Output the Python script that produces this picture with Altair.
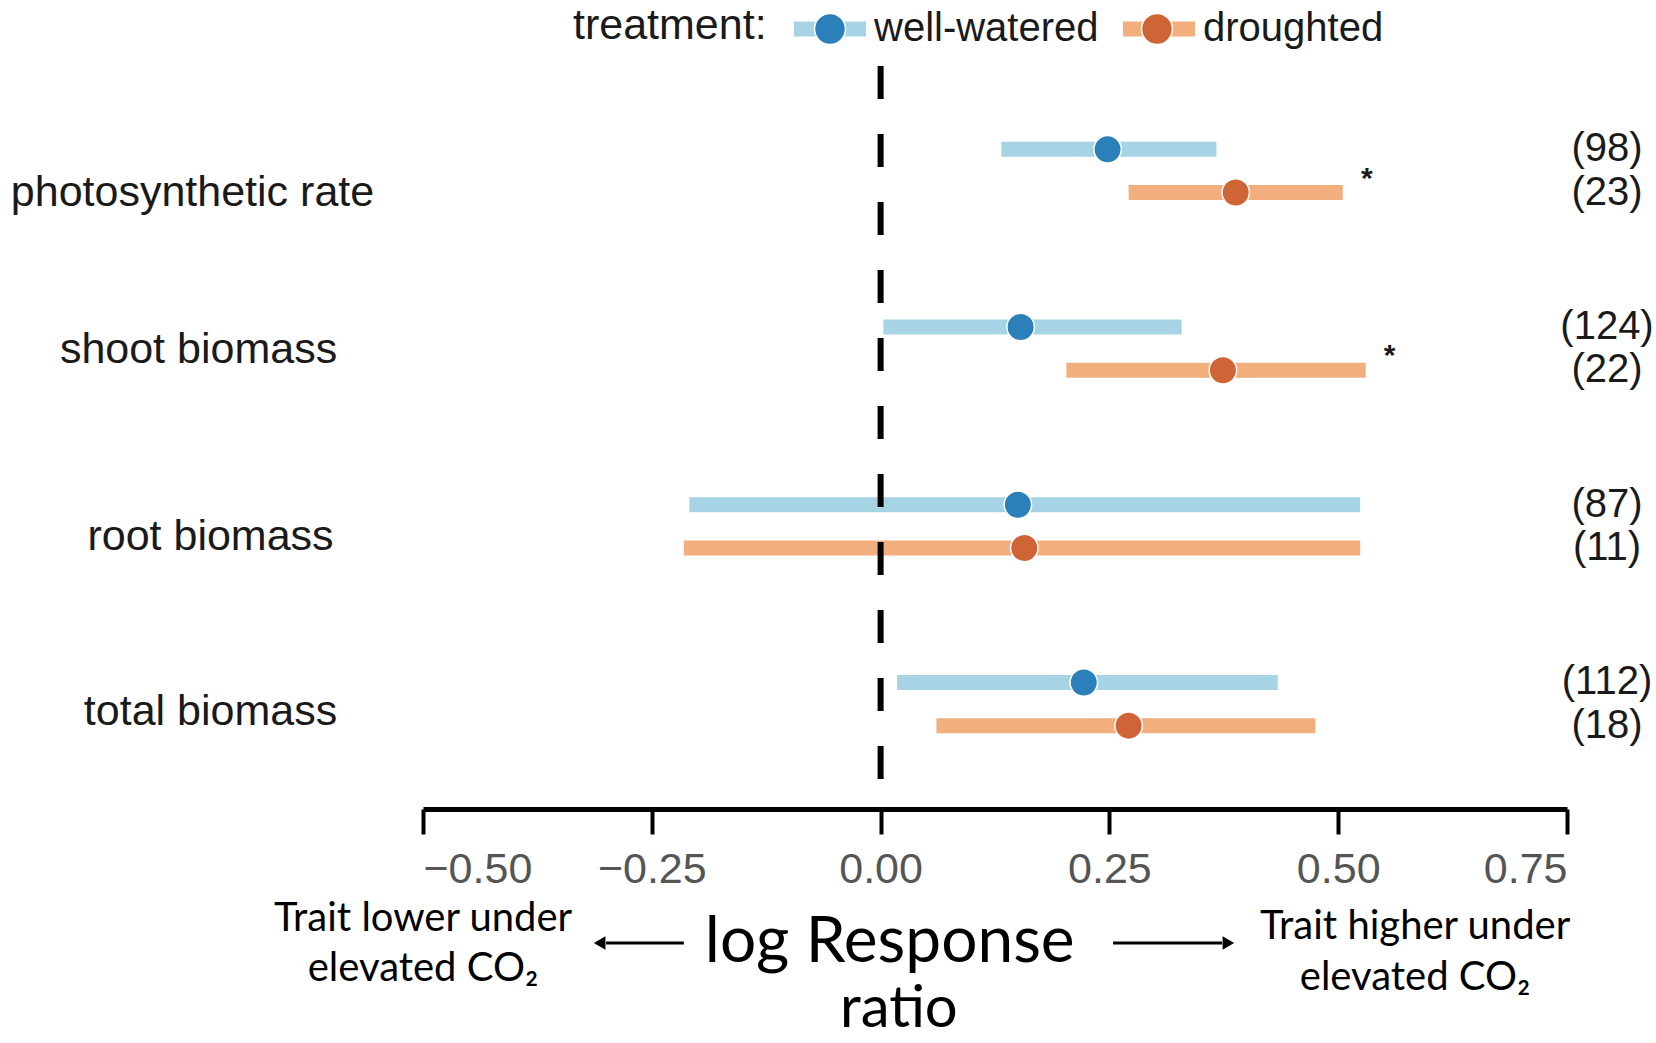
import altair as alt
import pandas as pd

traits = ["photosynthetic rate", "shoot biomass", "root biomass", "total biomass"]
treatments = ["well-watered", "droughted"]

ww_mean = [0.248, 0.153, 0.150, 0.222]
ww_lo = [0.132, 0.003, -0.209, 0.018]
ww_hi = [0.367, 0.329, 0.524, 0.434]
ww_n = [98, 124, 87, 112]

dr_mean = [0.388, 0.374, 0.157, 0.271]
dr_lo = [0.271, 0.203, -0.215, 0.061]
dr_hi = [0.505, 0.530, 0.524, 0.475]
dr_n = [23, 22, 11, 18]
dr_sig = ["*", "*", "", ""]

x_ticks = [-0.5, -0.25, 0.0, 0.25, 0.5, 0.75]

rows = []
for i, t in enumerate(traits):
    rows.append(dict(trait=t, treatment="well-watered", mean=ww_mean[i], lo=ww_lo[i],
                     hi=ww_hi[i], n=f"({ww_n[i]})", sig=""))
    rows.append(dict(trait=t, treatment="droughted", mean=dr_mean[i], lo=dr_lo[i],
                     hi=dr_hi[i], n=f"({dr_n[i]})", sig=dr_sig[i]))
df = pd.DataFrame(rows)
one = pd.DataFrame({"k": [0]})

W, H = 1144, 743
FONT = "Liberation Sans, Arial, Helvetica, sans-serif"
NOTE_FONT = "Lato, Roboto, sans-serif"

light = ["#a7d4e4", "#f2ae7c"]
dark = ["#2c80b9", "#cf6536"]

x_scale = alt.Scale(domain=[-0.5, 0.75], nice=False, zero=False)
x_axis = alt.Axis(title=None, values=x_ticks, format=".2f", grid=False,
                  domainColor="black", domainWidth=5, tickColor="black", tickWidth=4,
                  tickSize=25, labelFontSize=43, labelFont=FONT, labelColor="#555555",
                  labelPadding=14)
y_enc = alt.Y("trait:N", sort=traits,
              scale=alt.Scale(paddingInner=0.514, paddingOuter=0.3475),
              axis=alt.Axis(
                  title=None, domain=False, ticks=False, labelAlign="center",
                  labelPadding={"condition": [
                      {"test": "datum.value == 'photosynthetic rate'", "value": 231},
                      {"test": "datum.value == 'shoot biomass'", "value": 225}],
                      "value": 213},
                  labelOffset={"condition": [
                      {"test": "datum.value == 'photosynthetic rate'", "value": 22},
                      {"test": "datum.value == 'shoot biomass'", "value": 1},
                      {"test": "datum.value == 'total biomass'", "value": 8}],
                      "value": 11},
                  labelFontSize=43, labelFont=FONT, labelColor="#1a1a1a", labelLimit=0))
yoff = alt.YOffset("treatment:N", sort=treatments,
                   scale=alt.Scale(paddingInner=0, paddingOuter=0))

bar_path = "M-1,-0.208H1V0.208H-1Z"
circ_path = "M0.43,0A0.43,0.43,0,1,1,-0.43,0A0.43,0.43,0,1,1,0.43,0Z"

leg_common = dict(title=None, orient="none", legendX=370, legendY=-74,
                  direction="horizontal",
                  labelFontSize=40, labelFont=FONT, labelColor="#1a1a1a",
                  symbolSize=5184, symbolStrokeWidth=1.5, labelOffset=7,
                  columnPadding=21, padding=0, labelLimit=0)

bars = alt.Chart(df).mark_bar(height=15, opacity=1).encode(
    x=alt.X("lo:Q", scale=x_scale, axis=x_axis),
    x2="hi:Q",
    y=y_enc,
    yOffset=yoff,
    color=alt.Color("treatment:N", sort=treatments,
                    scale=alt.Scale(domain=treatments, range=light),
                    legend=alt.Legend(symbolType=bar_path, symbolStrokeColor="transparent",
                                      **leg_common)),
)

points = alt.Chart(df).mark_circle(size=755, opacity=1, stroke="white", strokeWidth=1.5).encode(
    x=alt.X("mean:Q", scale=x_scale, axis=x_axis),
    y=y_enc,
    yOffset=yoff,
    color=alt.Color("treatment:N", sort=treatments,
                    scale=alt.Scale(domain=treatments, range=dark),
                    legend=alt.Legend(symbolType=circ_path, symbolStrokeColor="white",
                                      labelOpacity=0, **leg_common)),
)

legend_title = alt.Chart(one).mark_text(
    text="treatment:", fontSize=43, font=FONT, color="#1a1a1a", align="left",
    baseline="middle").encode(x=alt.value(150), y=alt.value(-40))

zero_line = alt.Chart(one).mark_rule(color="black", strokeWidth=6, strokeDash=[33, 35]).encode(
    x=alt.XDatum(0, scale=x_scale, axis=x_axis)
)

ns = alt.Chart(df).mark_text(fontSize=40, font=FONT, color="#1a1a1a", align="center",
                             baseline="middle").encode(
    x=alt.value(W + 40),
    y=y_enc,
    yOffset=yoff,
    text="n:N",
)

stars = alt.Chart(df).transform_filter(alt.datum.sig != "").mark_text(
    fontSize=30, font=FONT, fontWeight="bold", color="#1a1a1a", align="center",
    baseline="middle", dx=24, dy=-14).encode(
    x=alt.X("hi:Q", scale=x_scale, axis=x_axis),
    y=y_enc,
    yOffset=yoff,
    text="sig:N",
)

note_left = alt.Chart(one).mark_text(
    text=["Trait lower under", "elevated CO₂"], fontSize=40, font=NOTE_FONT,
    color="black", align="center", baseline="middle", lineHeight=50).encode(
    x=alt.XDatum(-0.5, scale=x_scale, axis=x_axis), y=alt.value(853))

note_right = alt.Chart(one).mark_text(
    text=["Trait higher under", "elevated CO₂"], fontSize=40, font=NOTE_FONT,
    color="black", align="center", baseline="middle", lineHeight=51).encode(
    x=alt.XDatum(0.584, scale=x_scale, axis=x_axis), y=alt.value(861))

note_mid = alt.Chart(one).mark_text(
    text="log Response", fontSize=64, font=NOTE_FONT,
    color="black", align="center", baseline="middle").encode(
    x=alt.XDatum(0.010, scale=x_scale, axis=x_axis), y=alt.value(877))

note_mid2 = alt.Chart(one).mark_text(
    text="ratio", fontSize=58, font=NOTE_FONT,
    color="black", align="center", baseline="middle").encode(
    x=alt.XDatum(0.020, scale=x_scale, axis=x_axis), y=alt.value(944))

arrow_l = alt.Chart(one).mark_rule(color="black", strokeWidth=3).encode(
    x=alt.XDatum(-0.300, scale=x_scale, axis=x_axis), x2=alt.X2Datum(-0.215),
    y=alt.value(877))
head_l = alt.Chart(one).mark_point(shape="triangle-left", filled=True, size=180,
                                   color="black", opacity=1).encode(
    x=alt.XDatum(-0.307, scale=x_scale, axis=x_axis), y=alt.value(877))
arrow_r = alt.Chart(one).mark_rule(color="black", strokeWidth=3).encode(
    x=alt.XDatum(0.254, scale=x_scale, axis=x_axis), x2=alt.X2Datum(0.373),
    y=alt.value(877))
head_r = alt.Chart(one).mark_point(shape="triangle-right", filled=True, size=180,
                                   color="black", opacity=1).encode(
    x=alt.XDatum(0.380, scale=x_scale, axis=x_axis), y=alt.value(877))

chart = alt.layer(
    bars, points, legend_title, zero_line, ns, stars, note_left, note_right, note_mid,
    note_mid2, arrow_l, head_l, arrow_r, head_r
).resolve_scale(color="independent").properties(
    width=W, height=H,
    background="white",
    autosize=alt.AutoSizeParams(type="none"),
    padding={"left": 423, "top": 66, "right": 89, "bottom": 234},
).configure_view(strokeWidth=0, stroke=None)

chart.save("out.html", embed_options={"renderer": "svg", "actions": False})
